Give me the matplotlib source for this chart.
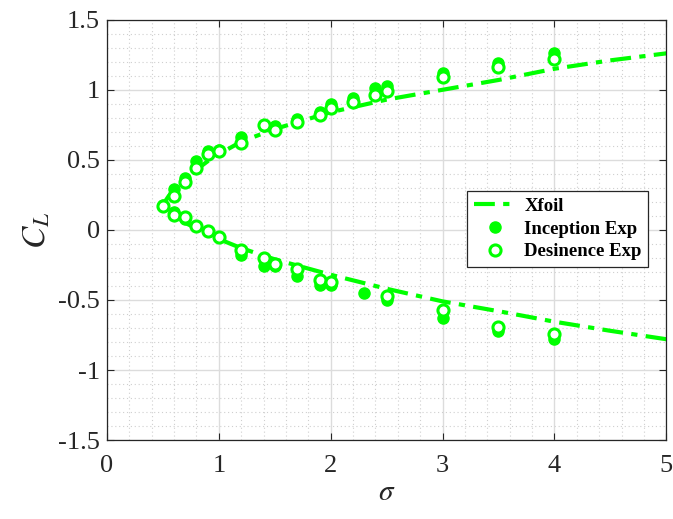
import numpy as np
import matplotlib
matplotlib.use('Agg')
import matplotlib.pyplot as plt
from matplotlib.ticker import MultipleLocator

# Xfoil curve (lower branch then upper branch)
xfoil_sigma = [5.0, 4.5, 4.0, 3.5, 3.0, 2.5, 2.0, 1.5, 1.2, 1.0, 0.9, 0.8, 0.7, 0.6, 0.55, 0.5,
               0.55, 0.6, 0.7, 0.8, 0.9, 1.0, 1.2, 1.5, 2.0, 2.5, 3.0, 3.5, 4.0, 4.5, 5.0]
xfoil_cl = [-0.78, -0.72, -0.655, -0.58, -0.51, -0.42, -0.32, -0.21, -0.13, -0.065, -0.03, 0.01, 0.05, 0.10, 0.13, 0.18,
            0.24, 0.29, 0.36, 0.43, 0.49, 0.54, 0.63, 0.72, 0.84, 0.93, 1.00, 1.07, 1.15, 1.21, 1.26]

# inception experiment
inc_sigma = [0.5, 0.6, 0.7, 0.8, 0.9, 1.0, 1.2, 1.4, 1.5, 1.7, 1.9, 2.0, 2.2, 2.4, 2.5, 3.0, 3.5, 4.0,
             0.6, 0.7, 0.8, 0.9, 1.0, 1.2, 1.4, 1.5, 1.7, 1.9, 2.0, 2.3, 2.5, 3.0, 3.5, 4.0]
inc_cl = [0.18, 0.29, 0.37, 0.49, 0.56, 0.57, 0.66, 0.74, 0.74, 0.79, 0.84, 0.90, 0.94, 1.01, 1.03, 1.12, 1.19, 1.26,
          0.13, 0.08, 0.03, -0.01, -0.05, -0.18, -0.26, -0.26, -0.33, -0.39, -0.39, -0.45, -0.50, -0.63, -0.72, -0.78]

# desinence experiment
des_sigma = [0.5, 0.6, 0.7, 0.8, 0.9, 1.0, 1.2, 1.4, 1.5, 1.7, 1.9, 2.0, 2.2, 2.4, 2.5, 3.0, 3.5, 4.0,
             0.6, 0.7, 0.8, 0.9, 1.0, 1.2, 1.4, 1.5, 1.7, 1.9, 2.0, 2.5, 3.0, 3.5, 4.0]
des_cl = [0.17, 0.24, 0.34, 0.44, 0.54, 0.56, 0.62, 0.75, 0.71, 0.77, 0.82, 0.87, 0.91, 0.96, 0.99, 1.09, 1.16, 1.22,
          0.11, 0.09, 0.03, -0.01, -0.05, -0.14, -0.20, -0.24, -0.28, -0.36, -0.37, -0.47, -0.57, -0.69, -0.74]

x_ticks = [0, 1, 2, 3, 4, 5]
y_ticks = [-1.5, -1, -0.5, 0, 0.5, 1, 1.5]
y_labels = ['-1.5', '-1', '-0.5', '0', '0.5', '1', '1.5']

green = '#00ff00'

plt.rcParams['font.family'] = ['Liberation Serif', 'DejaVu Serif']
plt.rcParams['mathtext.fontset'] = 'stix'

fig = plt.figure(figsize=(6.73, 5.19), dpi=100)
ax = fig.add_axes([0.159, 0.152, 0.831, 0.810])

ax.plot(xfoil_sigma, xfoil_cl, color=green, lw=3, linestyle=(0, (5, 2, 1.5, 2)), label='Xfoil')
ax.plot(inc_sigma, inc_cl, 'o', color=green, ms=8, label='Inception Exp')
ax.plot(des_sigma, des_cl, 'o', mfc='white', mec=green, mew=2.2, ms=8, label='Desinence Exp')

ax.set_xlim(0, 5)
ax.set_ylim(-1.5, 1.5)
ax.set_xticks(x_ticks)
ax.set_xticklabels([str(t) for t in x_ticks])
ax.set_yticks(y_ticks)
ax.set_yticklabels(y_labels)
ax.xaxis.set_minor_locator(MultipleLocator(0.2))
ax.yaxis.set_minor_locator(MultipleLocator(0.1))

ax.grid(which='major', color='#dcdcdc', lw=1.0, ls='-')
ax.grid(which='minor', color='#cfcfcf', lw=0.8, ls=(0, (1, 2.5)))
ax.set_axisbelow(True)

ax.tick_params(which='both', direction='in', top=True, right=True, colors='#262626',
               labelcolor='#262626', labelsize=19)
ax.tick_params(which='major', length=5)
ax.tick_params(axis='x', which='major', pad=11)
ax.tick_params(axis='y', which='major', pad=5)
ax.tick_params(which='minor', length=0)
for s in ax.spines.values():
    s.set_color('#262626')
    s.set_linewidth(0.9)

ax.set_xlabel(r'$\sigma$', fontsize=21, color='#262626', labelpad=2)
ax.set_ylabel(r'$C_L$', fontsize=24, color='#262626', labelpad=4)

leg = ax.legend(loc='upper left', bbox_to_anchor=(0.644, 0.592),
                prop={'weight': 'bold', 'size': 13.5}, fancybox=False, framealpha=1,
                edgecolor='#262626', handlelength=2.3, borderpad=0.35, labelspacing=0.3,
                handletextpad=0.4, borderaxespad=0)
leg.get_frame().set_linewidth(0.9)

fig.savefig('out.png', dpi=100)
